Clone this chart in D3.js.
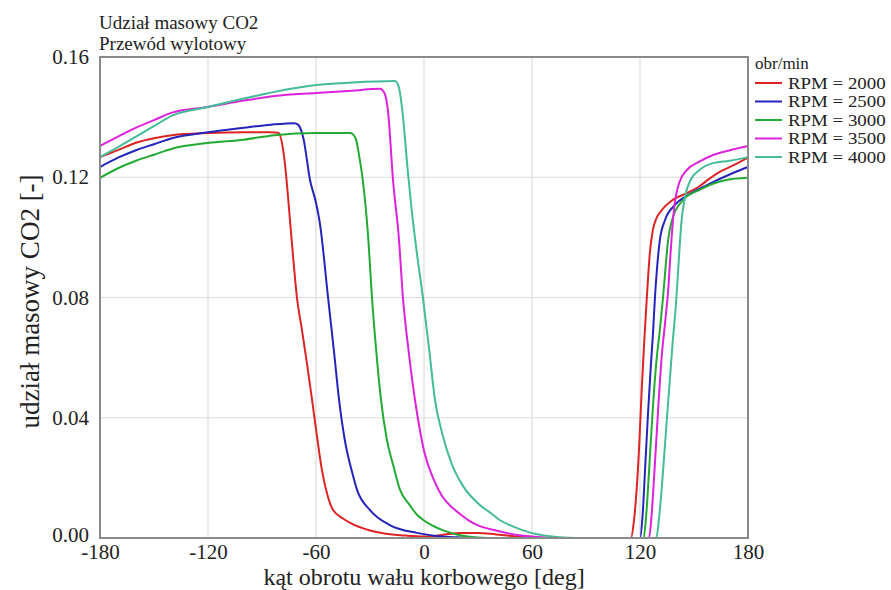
<!DOCTYPE html>
<html>
<head>
<meta charset="utf-8">
<script src="https://cdn.jsdelivr.net/npm/d3@7"></script>
<style>
  body { margin: 0; background: #fff; }
  text { font-family: "Liberation Serif", "DejaVu Serif", serif; fill: #222; }
</style>
</head>
<body>
<div id="main"></div>
<script>
// series: [crank angle deg, CO2 mass fraction]
var rpm2000 = [[-180,0.1267],[-170,0.129],[-160,0.1315],[-150,0.133],[-140,0.134],[-120,0.1347],[-100,0.135],[-85,0.135],[-81,0.1348],
  [-78,0.128],[-76.5,0.12],[-74.5,0.106],[-72.5,0.092],[-70.6,0.08],[-68,0.07],[-65,0.058],[-62.2,0.046],[-59.5,0.034],[-56.7,0.0226],
  [-53.5,0.014],[-50.5,0.0093],[-45,0.0065],[-41,0.005],[-30,0.0025],[-22,0.0015],[-10,0.0008],[0,0.0005],[10,0.001],[20,0.0017],[30,0.0017],
  [40,0.0012],[50,0.0006],[60,0.0002],[70,0],[115,0],[116.5,0.005],[118,0.015],[119.5,0.03],[121,0.05],[122.5,0.067],[124,0.082],
  [125.5,0.095],[127,0.102],[129,0.1062],[132,0.109],[138,0.1124],[146,0.1147],[153,0.117],[159,0.1197],[165,0.122],[172,0.124],[180,0.1265]];
var rpm2500 = [[-180,0.1234],[-170,0.1265],[-160,0.129],[-150,0.131],[-140,0.133],[-120,0.135],[-100,0.1365],[-85,0.1375],[-72,0.138],
  [-70,0.1375],[-67,0.133],[-63.3,0.119],[-60,0.1115],[-57.8,0.1045],[-53.3,0.08],[-50,0.062],[-47.2,0.046],[-44,0.0326],[-40,0.022],
  [-37.2,0.016],[-30,0.0093],[-19,0.0043],[-4,0.0017],[10,0.0005],[20,0.0002],[40,0],[120,0],[121.5,0.008],[122.8,0.0226],[124.5,0.042],
  [126,0.057],[127.2,0.068],[128.3,0.08],[129.5,0.09],[131,0.099],[133.9,0.1058],[139.4,0.1108],[146.7,0.1141],[157.2,0.1174],[171.7,0.1214],[180,0.1234]];
var rpm3000 = [[-180,0.1198],[-170,0.123],[-160,0.1255],[-150,0.1275],[-140,0.1295],[-120,0.1314],[-100,0.1325],[-83,0.134],[-60,0.1347],
  [-41,0.1347],[-38,0.133],[-36,0.127],[-34,0.119],[-31,0.1],[-28.9,0.08],[-26.5,0.062],[-23.9,0.046],[-20.6,0.0326],[-17,0.024],
  [-13.3,0.016],[-8,0.011],[-4,0.0078],[0,0.0058],[5,0.004],[10,0.0027],[15,0.0017],[20,0.0009],[30,0.0002],[40,0],[122,0],
  [123.5,0.008],[125,0.022],[127,0.042],[129,0.058],[131,0.069],[132.8,0.08],[134.2,0.09],[135.6,0.099],[137.8,0.1058],[143.9,0.1124],
  [153,0.1158],[168,0.1191],[180,0.1198]];
var rpm3500 = [[-180,0.1304],[-170,0.1335],[-160,0.1365],[-150,0.139],[-140,0.1415],[-120,0.1434],[-100,0.1455],[-83,0.147],[-60,0.148],
  [-40,0.1488],[-24.4,0.1494],[-22,0.148],[-20,0.142],[-17.2,0.119],[-14,0.1],[-11.7,0.08],[-8.5,0.062],[-5,0.0459],[-2,0.035],
  [0,0.029],[5,0.02],[10,0.014],[15,0.0105],[20,0.008],[25,0.0058],[30,0.0042],[40,0.0025],[50,0.0012],[60,0.0005],[70,0.0001],[80,0],
  [125,0],[126.5,0.008],[128,0.022],[130,0.042],[132,0.06],[134,0.072],[135.6,0.082],[137,0.095],[138.5,0.107],[140,0.114],[142,0.1185],
  [146,0.1224],[153,0.1252],[160.6,0.1274],[170,0.129],[180,0.1304]];
var rpm4000 = [[-180,0.1267],[-170,0.13],[-160,0.1335],[-150,0.137],[-140,0.1405],[-120,0.1434],[-100,0.1462],[-90,0.1475],[-83,0.1484],
  [-60,0.1507],[-40,0.1515],[-16,0.152],[-14,0.15],[-12,0.142],[-9,0.122],[-7,0.11],[-4,0.095],[-0.6,0.08],[3,0.062],[6.1,0.0459],
  [10,0.035],[15.5,0.0245],[22,0.017],[31,0.011],[37,0.0083],[42,0.006],[50,0.0037],[59,0.0018],[70,0.0006],[80,0.0001],[90,0],
  [129,0],[130.5,0.006],[132,0.016],[134,0.032],[136,0.048],[138,0.064],[140,0.078],[141.5,0.092],[143,0.105],[145,0.1135],[148,0.119],
  [153,0.1224],[160.6,0.1247],[170,0.1255],[180,0.1267]];

var seriesData = [rpm2000, rpm2500, rpm3000, rpm3500, rpm4000];
var seriesNames = ["RPM = 2000", "RPM = 2500", "RPM = 3000", "RPM = 3500", "RPM = 4000"];
var seriesColors = ["#dd2424", "#2424bb", "#22aa33", "#dd22dd", "#44bb99"];
var xTicks = [-180, -120, -60, 0, 60, 120, 180];
var yTicks = [0, 0.04, 0.08, 0.12, 0.16];

// dimensions
var svg_width = 891,
    svg_height = 590;
var margin = {top: 57, right: 143, bottom: 52, left: 100};
var graph_width = svg_width - margin.left - margin.right,
    graph_height = svg_height - margin.top - margin.bottom;

var root = d3.select("#main").append("svg")
    .attr("width", svg_width)
    .attr("height", svg_height);
var svg = root.append("g")
    .attr("transform", "translate(" + margin.left + "," + margin.top + ")");

var xScale = d3.scaleLinear().domain([-180, 180]).range([0, graph_width]);
var yScale = d3.scaleLinear().domain([0, 0.16]).range([graph_height, 0]);

// grid
svg.append("g").selectAll("line").data(xTicks.slice(1, -1)).enter().append("line")
    .attr("x1", function(d) { return xScale(d); }).attr("x2", function(d) { return xScale(d); })
    .attr("y1", 0).attr("y2", graph_height)
    .attr("stroke", "#dcdcdc").attr("stroke-width", 1.2);
svg.append("g").selectAll("line").data(yTicks.slice(1, -1)).enter().append("line")
    .attr("y1", function(d) { return yScale(d); }).attr("y2", function(d) { return yScale(d); })
    .attr("x1", 0).attr("x2", graph_width)
    .attr("stroke", "#dcdcdc").attr("stroke-width", 1.2);

// axes (labels only, frame drawn separately)
var xAxis = svg.append("g")
    .attr("transform", "translate(0," + graph_height + ")")
    .call(d3.axisBottom(xScale).tickValues(xTicks).tickSize(0).tickPadding(6).tickFormat(function(d) { return String(d); }));
var yAxis = svg.append("g")
    .call(d3.axisLeft(yScale).tickValues(yTicks).tickSize(0).tickPadding(11).tickFormat(d3.format(".2f")));
[xAxis, yAxis].forEach(function(a) {
    a.select(".domain").remove();
    a.attr("font-family", null);
    a.selectAll("text").attr("font-size", 21).attr("fill", "#222");
});
// bottom y label sits a little above its line, as in the original
yAxis.selectAll(".tick").filter(function(d) { return d === 0; }).select("text").attr("y", -3);

// lines
var line = d3.line()
    .x(function(d) { return xScale(d[0]); })
    .y(function(d) { return yScale(d[1]); })
    .curve(d3.curveMonotoneX);

svg.append("g").selectAll(".series")
    .data(seriesData).enter().append("path")
    .attr("class", "series")
    .attr("fill", "none")
    .attr("stroke", function(d, i) { return seriesColors[i]; })
    .attr("stroke-width", 2)
    .attr("d", line);

// frame
svg.append("rect")
    .attr("width", graph_width).attr("height", graph_height)
    .attr("fill", "none").attr("stroke", "#8a8a8a").attr("stroke-width", 2);

// titles
root.append("text").attr("x", 99).attr("y", 29).attr("font-size", 19).text("Udział masowy CO2");
root.append("text").attr("x", 99).attr("y", 50).attr("font-size", 19).text("Przewód wylotowy");

root.append("text")
    .attr("text-anchor", "middle")
    .attr("transform", "translate(" + (margin.left + graph_width / 2) + ",585)")
    .attr("font-size", 24)
    .text("kąt obrotu wału korbowego [deg]");
root.append("text")
    .attr("text-anchor", "middle")
    .attr("transform", "translate(39," + (margin.top + graph_height / 2 + 4) + ") rotate(-90)")
    .attr("font-size", 27)
    .text("udział masowy CO2 [-]");

// legend
var legend = root.append("g").attr("transform", "translate(755,69)");
legend.append("text").attr("x", 0).attr("y", 0).attr("font-size", 17).text("obr/min");
var items = legend.selectAll(".item").data(seriesNames).enter().append("g")
    .attr("class", "item")
    .attr("transform", function(d, i) { return "translate(0," + (14 + i * 18.5) + ")"; });
items.append("line").attr("x1", 0).attr("x2", 27).attr("y1", 0).attr("y2", 0)
    .attr("stroke", function(d, i) { return seriesColors[i]; }).attr("stroke-width", 2);
items.append("text")
    .attr("transform", "translate(33,5.5) scale(1.18,1)")
    .attr("font-size", 16)
    .text(function(d) { return d; });
</script>
</body>
</html>
